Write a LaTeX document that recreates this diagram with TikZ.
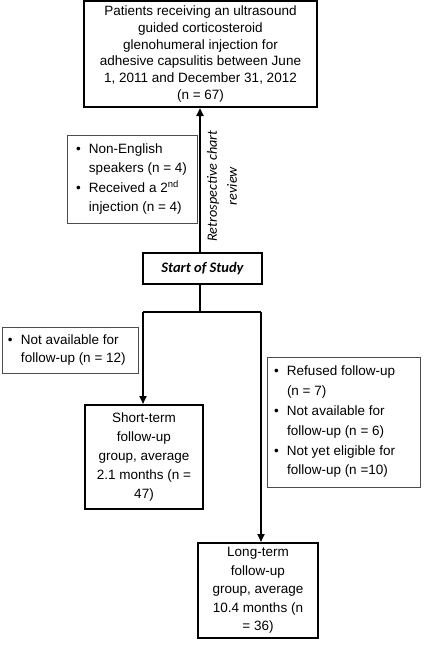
\documentclass[tikz,border=0pt]{standalone}
\usepackage{fontspec}
\setmainfont{Liberation Sans}
\newfontfamily\calibfont{Carlito}
\usetikzlibrary{arrows.meta}
\newcommand{\bitem}[1]{\par\hangindent=13pt\hangafter=1\noindent\makebox[13pt][l]{\textbullet}#1}
\tikzset{
  mainbox/.style={draw=black, line width=2pt, align=center, inner sep=0pt, font=\fontsize{13.5}{18}\selectfont},
  exclbox/.style={draw=black!70, line width=0.9pt, inner sep=0pt, font=\fontsize{13.5}{18.5}\selectfont},
  flow/.style={line width=2pt, -{Triangle[length=8pt,width=7pt]}},
  plain/.style={line width=2pt},
}
\begin{document}
\begin{tikzpicture}[x=1pt,y=-1pt]
\useasboundingbox (0,0) rectangle (424,649);
\node[mainbox, minimum width=233pt, minimum height=106pt, font=\fontsize{13.5}{16.8}\selectfont] (top) at (200.5,54)
  {Patients receiving an ultrasound\\guided corticosteroid\\glenohumeral injection for\\adhesive capsulitis between June\\1, 2011 and December 31, 2012\\(n = 67)};
\node[mainbox, minimum width=119pt, minimum height=31pt, font=\calibfont\fontsize{14.5}{16}\selectfont\bfseries\itshape] (start) at (202.5,268.5) {Start of Study};
\node[exclbox, minimum width=130pt, minimum height=88pt] (ex1) at (132,179)
  {\parbox{112pt}{\bitem{Non-English\\speakers (n = 4)}\vspace{2pt}\bitem{Received a 2\textsuperscript{nd}\\injection (n = 4)}}};
\node[exclbox, minimum width=136pt, minimum height=46pt] (ex2) at (70,350)
  {\parbox{124pt}{\bitem{Not available for\\follow-up (n = 12)}}};
\node[exclbox, minimum width=153pt, minimum height=130pt, font=\fontsize{13.5}{19.8}\selectfont] (ex3) at (343.5,422)
  {\parbox{139pt}{\bitem{Refused follow-up\\(n = 7)}\bitem{Not available for\\follow-up (n = 6)}\bitem{Not yet eligible for\\follow-up (n =10)}}};
\node[mainbox, minimum width=118pt, minimum height=104pt, font=\fontsize{13.5}{19}\selectfont] (short) at (144,457)
  {Short-term\\follow-up\\group, average\\2.1 months (n =\\47)};
\node[mainbox, minimum width=120pt, minimum height=95pt, font=\fontsize{13.5}{18.5}\selectfont] (long) at (258,590.5)
  {Long-term\\follow-up\\group, average\\10.4 months (n\\= 36)};
\node[rotate=90, align=center, inner sep=0pt, font=\calibfont\fontsize{14.2}{20}\selectfont\itshape] (retro) at (222,186) {Retrospective chart\\review};
\coordinate (jc) at (200,312);
\coordinate (jl) at (143,312);
\coordinate (jr) at (261,312);
\draw[flow] (start.north -| jc) -- (top.south -| jc);
\draw[plain] (start.south -| jc) -- (jc);
\draw[plain] (jl) -- (jr);
\draw[flow] (jl) -- (jl |- short.north);
\draw[flow] (jr) -- (jr |- long.north);
\end{tikzpicture}
\end{document}
